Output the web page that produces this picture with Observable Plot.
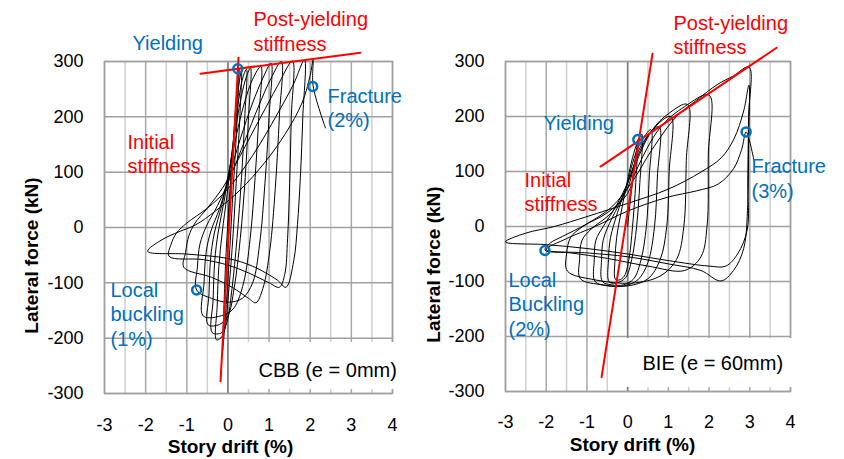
<!DOCTYPE html>
<html><head><meta charset="utf-8">
<script src="https://cdn.jsdelivr.net/npm/d3@7"></script>
<script src="https://cdn.jsdelivr.net/npm/@observablehq/plot@0.6"></script>
<style>
html,body{margin:0;padding:0;background:#fff;}
#wrap{position:relative;width:844px;height:459px;overflow:hidden;background:#fff;}
#left,#right{position:absolute;top:0;}
#left{left:0;} #right{left:422px;}
</style></head>
<body><div id="wrap"><div id="left"></div><div id="right"></div></div>
<script>
// ---------- data ----------
const xTicks = [-3, -2, -1, 0, 1, 2, 3, 4];
const xMinor = [-2.5, -1.5, -0.5, 0.5, 1.5, 2.5, 3.5];
const yTicks = [-300, -200, -100, 0, 100, 200, 300];

// CBB (e = 0mm): story drift (%), lateral force (kN) test path
const cbbPath = [
  [0,0],[0.1,115],[0.2,230],[0.27,288],
  [0.22,190],[0.12,60],[0.02,-70],[-0.06,-160],[-0.13,-223],
  [-0.1,-150],[-0.06,-70],[-0.01,0],[0.08,100],[0.18,200],[0.27,260],[0.33,284],
  [0.29,200],[0.2,80],[0.1,-40],[0.0,-130],[-0.08,-185],[-0.18,-200],[-0.28,-203],
  [-0.26,-140],[-0.22,-70],[-0.14,-10],[-0.02,60],[0.12,150],[0.25,225],[0.36,270],[0.45,286],
  [0.41,200],[0.33,90],[0.22,-20],[0.1,-110],[-0.02,-170],[-0.15,-190],[-0.38,-190],
  [-0.36,-130],[-0.32,-60],[-0.24,-10],[-0.1,45],[0.05,110],[0.2,185],[0.35,245],[0.47,277],[0.55,288],
  [0.5,200],[0.42,90],[0.3,-20],[0.15,-110],[0.0,-160],[-0.2,-175],[-0.48,-176],
  [-0.46,-120],[-0.42,-55],[-0.33,-10],[-0.15,40],[0.02,100],[0.2,165],[0.4,225],[0.6,268],[0.8,291],
  [0.75,200],[0.66,90],[0.54,-20],[0.38,-100],[0.15,-145],[-0.1,-158],[-0.6,-160],
  [-0.58,-100],[-0.53,-45],[-0.42,-8],[-0.2,35],[0.02,90],[0.3,160],[0.6,225],[0.85,270],[1.05,297],
  [1.0,200],[0.9,80],[0.77,-30],[0.6,-100],[0.35,-128],[0.0,-135],[-0.4,-128],[-0.76,-113],
  [-0.74,-70],[-0.68,-30],[-0.52,3],[-0.25,40],[0.05,90],[0.4,155],[0.75,220],[1.05,270],[1.3,300],
  [1.25,200],[1.15,70],[1.02,-40],[0.85,-110],[0.68,-136],[0.5,-128],[0.1,-108],[-0.4,-90],[-1.07,-72],
  [-1.03,-45],[-0.95,-15],[-0.8,8],[-0.5,35],[-0.1,75],[0.3,130],[0.8,200],[1.2,255],[1.57,301],
  [1.54,200],[1.5,80],[1.45,-20],[1.38,-85],[1.25,-108],[1.0,-100],[0.5,-82],[0.0,-68],[-0.6,-58],[-1.43,-52],
  [-1.38,-30],[-1.25,-10],[-1.0,8],[-0.5,35],[0.0,70],[0.6,130],[1.2,205],[1.6,260],[1.86,303],
  [1.82,200],[1.76,90],[1.69,5],[1.6,-60],[1.41,-108],[1.2,-95],[0.6,-70],[0.0,-56],[-1.0,-48],[-1.95,-43],
  [-1.6,-22],[-1.2,-8],[-0.78,5],[-0.3,30],[0.3,68],[0.9,118],[1.4,170],[1.8,225],[2.0,275],[2.07,303],
  [2.07,256],[2.37,180]
];
const cbbInitial = [[0.257, 307], [-0.18, -278]];
const cbbPost = [[-0.667, 278], [3.22, 316]];
const cbbPoints = [[0.24, 287], [2.06, 255], [-0.76, -113]];
const cbbName = "CBB (e = 0mm)";

// BIE (e = 60mm)
const biePath = [
  [0,0],[0.1,70],[0.2,130],[0.25,158],
  [0.2,80],[0.12,0],[0.03,-60],[-0.08,-90],[-0.2,-97],[-0.3,-96],
  [-0.31,-60],[-0.27,-20],[-0.15,30],[0.0,85],[0.12,125],[0.25,155],[0.35,168],
  [0.3,80],[0.22,0],[0.1,-60],[-0.05,-93],[-0.25,-102],[-0.45,-101],
  [-0.47,-60],[-0.42,-20],[-0.25,25],[0.0,80],[0.12,115],[0.3,150],[0.57,176],
  [0.53,90],[0.46,0],[0.33,-60],[0.15,-95],[-0.1,-106],[-0.4,-106],[-0.62,-100],
  [-0.64,-60],[-0.6,-25],[-0.45,5],[-0.15,50],[0.08,95],[0.35,150],[0.77,182],
  [0.73,90],[0.66,0],[0.5,-65],[0.25,-97],[-0.1,-108],[-0.5,-108],[-0.8,-100],
  [-0.82,-60],[-0.78,-25],[-0.6,0],[-0.3,35],[0.05,88],[0.2,120],[0.6,175],[1.06,200],
  [1.02,100],[0.96,0],[0.8,-60],[0.5,-95],[0.0,-108],[-0.6,-106],[-1.16,-95],
  [-1.18,-60],[-1.12,-25],[-0.9,-5],[-0.4,25],[0.0,70],[0.15,105],[0.6,175],[1.0,205],[1.47,222],
  [1.44,120],[1.38,0],[1.2,-60],[0.8,-90],[0.1,-103],[-0.8,-97],[-1.48,-81],
  [-1.5,-50],[-1.4,-20],[-1.1,0],[-0.5,25],[0.0,60],[0.2,100],[0.8,180],[1.4,218],[2.0,239],
  [1.98,130],[1.95,0],[1.8,-55],[1.4,-80],[0.5,-72],[-0.5,-58],[-1.4,-48],[-2.03,-43],
  [-1.9,-30],[-1.6,-18],[-1.0,5],[-0.4,35],[0.1,80],[0.6,140],[1.2,200],[1.7,230],[2.2,258],[2.6,274],[2.98,290],
  [2.97,200],[2.95,80],[2.94,-5],[2.7,-50],[2.41,-72],[2.0,-72],[1.0,-62],[0.0,-50],[-1.0,-40],[-2.0,-33],[-3.0,-28],
  [-2.5,-12],[-1.8,0],[-1.0,18],[0.0,42],[1.0,68],[1.8,99],[2.3,125],[2.61,159],[2.85,210],[2.98,257],
  [2.97,150],[2.95,40],[2.85,-40],[2.6,-80],[2.29,-99],[1.8,-80],[1.0,-68],[0.0,-55],[-1.0,-48],[-2.0,-42],
  [-1.5,-22],[-0.8,0],[0.0,28],[0.97,53],[1.7,65],[2.22,77],[2.6,105],[2.8,140],[2.91,172],[3.1,121]
];
const bieInitial = [[0.61, 314], [-0.64, -274]];
const biePost = [[-0.667, 109], [3.66, 325]];
const biePoints = [[0.25, 158], [2.91, 172], [-2.03, -43.6]];
const bieName = "BIE (e = 60mm)";

const xTitle = "Story drift (%)";
const yTitle = "Lateral force (kN)";
const cbbRed = ["Post-yielding\nstiffness", "Initial\nstiffness"];
const cbbBlue = ["Yielding", "Fracture\n(2%)", "Local\nbuckling\n(1%)"];
const bieRed = ["Post-yielding\nstiffness", "Initial\nstiffness"];
const bieBlue = ["Yielding", "Fracture\n(3%)", "Local\nBuckling\n(2%)"];

// ---------- layout ----------
const FONT = "'Liberation Sans', Arial, Helvetica, sans-serif";
const RED = "#FF0000", BLUE = "#0070C0";

function panel(o) {
  const W = 422, H = 459, mt = 61;
  const x0 = o.ml, x1 = W - o.mr, y0 = mt, y1 = H - o.mb;
  const invX = px => -3 + (px - x0) / (x1 - x0) * 7;
  const invY = py => 300 - (py - y0) / (y1 - y0) * 600;
  const lab = (t, pos, color) => Plot.text([t], {
    text: d => d, frameAnchor: "top-left", dx: pos[0] - x0, dy: pos[1] - y0,
    textAnchor: "start", lineAnchor: "middle", lineHeight: 1.23,
    fontSize: 20, fill: color
  });
  return Plot.plot({
    width: W, height: H,
    marginLeft: o.ml, marginRight: o.mr, marginTop: mt, marginBottom: o.mb,
    x: {domain: [-3, 4], ticks: xTicks, tickSize: 0, tickPadding: o.xPad, tickFormat: d => String(d), label: null},
    y: {domain: [-300, 300], ticks: yTicks, tickSize: 0, tickPadding: 21, tickFormat: d => String(d), label: null},
    style: {fontFamily: FONT, fontSize: "18px", background: "white", color: "#000", overflow: "visible"},
    marks: [
      Plot.ruleX(xMinor, {stroke: "#d0d0d0", strokeWidth: 1.5}),
      Plot.ruleX(xTicks, {stroke: "#a8a8a8", strokeWidth: 1.5}),
      Plot.ruleY(yTicks, {stroke: "#a0a0a0", strokeWidth: 1.5}),
      Plot.ruleX([0], {stroke: "#7f7f7f", strokeWidth: 1.5}),
      Plot.frame({stroke: "#a0a0a0", strokeWidth: 1.5}),
      Plot.line(o.path, {x: d => d[0], y: d => d[1], stroke: "#000", strokeWidth: 1, curve: "catmull-rom"}),
      Plot.rect([0], {x1: () => invX(o.box[0]), x2: () => invX(o.box[2]), y1: () => invY(o.box[1]), y2: () => invY(o.box[3]), fill: "white"}),
      Plot.text([o.name], {text: d => d, frameAnchor: "top-left", dx: o.namePos[0] - x0, dy: o.namePos[1] - y0,
        textAnchor: "start", lineAnchor: "middle", fontSize: 20, fill: "#000"}),
      Plot.line(o.initial, {x: d => d[0], y: d => d[1], stroke: RED, strokeWidth: 2}),
      Plot.line(o.post, {x: d => d[0], y: d => d[1], stroke: RED, strokeWidth: 2}),
      Plot.dot(o.points, {x: d => d[0], y: d => d[1], r: 4.5, stroke: BLUE, strokeWidth: 2.5, fill: "none"}),
      ...o.red.map((t, i) => lab(t, o.redPos[i], RED)),
      ...o.blue.map((t, i) => lab(t, o.bluePos[i], BLUE)),
      Plot.text([xTitle], {text: d => d, frameAnchor: "bottom", dx: o.xTitle[0] - (x0 + x1) / 2, dy: o.xTitle[1] - y1,
        lineAnchor: "middle", textAnchor: "middle", fontSize: 19, fontWeight: "bold", fill: "#000"}),
      Plot.text([yTitle], {text: d => d, frameAnchor: "left", dx: o.yTitle[0] - x0, dy: o.yTitle[1] - (y0 + y1) / 2,
        rotate: -90, lineAnchor: "middle", textAnchor: "middle", fontSize: 19, fontWeight: "bold", fill: "#000"})
    ]
  });
}

document.getElementById("left").append(panel({
  ml: 104, mr: 30, mb: 66, xPad: 25,
  path: cbbPath, initial: cbbInitial, post: cbbPost, points: cbbPoints,
  name: cbbName, namePos: [258, 370], box: [240, 342, 402, 389],
  red: cbbRed, redPos: [[253, 30], [127, 152.5]],
  blue: cbbBlue, bluePos: [[132, 42], [327, 106.5], [110, 313]],
  xTitle: [230, 446], yTitle: [31, 255]
}));
document.getElementById("right").append(panel({
  ml: 83, mr: 54, mb: 68, xPad: 24,
  path: biePath, initial: bieInitial, post: biePost, points: biePoints,
  name: bieName, namePos: [220, 363], box: [196, 338, 380, 387],
  red: bieRed, redPos: [[251, 33.5], [102, 190.5]],
  blue: bieBlue, bluePos: [[121, 122], [329, 177], [86, 303]],
  xTitle: [210, 444], yTitle: [11.5, 264]
}));
</script></body></html>
